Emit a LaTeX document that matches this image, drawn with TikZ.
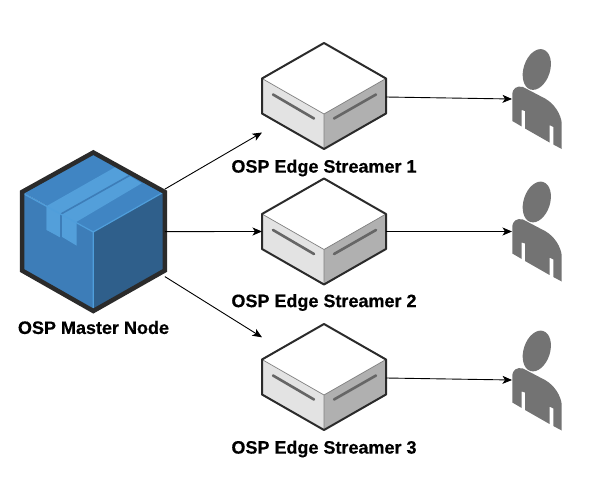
\documentclass[tikz,border=0pt]{standalone}
\usepackage{fontspec}
\setmainfont[BoldFeatures={FakeBold=0.4}]{Liberation Sans}
\usetikzlibrary{arrows.meta}
\definecolor{pkgtop}{HTML}{4085C3}
\definecolor{pkgleft}{HTML}{3D7DB8}
\definecolor{pkgright}{HTML}{2F5F8B}
\definecolor{pkgedge}{HTML}{4F9EDB}
\definecolor{pkgtape}{HTML}{539FDA}
\definecolor{outline}{HTML}{2B2B2B}
\definecolor{faceL}{HTML}{E3E3E3}
\definecolor{faceR}{HTML}{B0B0B0}
\definecolor{slot}{HTML}{666666}
\definecolor{persongray}{HTML}{737373}
\tikzset{
  lbl/.style={font=\fontsize{18}{20}\bfseries\selectfont,text=black,inner sep=0pt},
  anchorbox/.style={inner sep=0pt,outer sep=0pt,minimum width=#1},
  link/.style={draw=black,line width=0.9pt,-{Stealth[length=9.5pt,width=8pt,inset=2.5pt]}},
  boxedge/.style={draw=outline,line width=2pt,line join=round},
  slotline/.style={draw=slot,line width=2.6pt,line cap=round},
  persongeom/.style={fill=persongray,draw=none}
}
\newcommand{\edgeboxdraw}[1]{%
  \begin{scope}[shift={(0,#1)}]
    \fill[white] (324,43) -- (386,78.5) -- (324,114) -- (262,78.5) -- cycle;
    \fill[faceL] (262,78.5) -- (324,114) -- (324,149) -- (262,113.5) -- cycle;
    \fill[faceR] (386,78.5) -- (324,114) -- (324,149) -- (386,113.5) -- cycle;
    \draw[draw=gray,line width=0.7pt] (262,78.5) -- (324,114) -- (386,78.5) (324,114) -- (324,149);
    \draw[slotline] (273,94.5) -- (314,118.5);
    \draw[slotline] (334,118.5) -- (376,94.5);
    \draw[boxedge] (324,43) -- (386,78.5) -- (386,113.5) -- (324,149) -- (262,113.5) -- (262,78.5) -- cycle;
  \end{scope}}
\newcommand{\persondraw}[1]{%
  \begin{scope}[shift={(0,#1)}]
    \fill[persongeom] (536.8,69.5) ellipse [x radius=13.2,y radius=21,rotate=-18];
    \fill[persongeom] (512.3,121) -- (512.3,95)
      .. controls (512.3,88) and (517,85.5) .. (523,87)
      -- (545,98.5) .. controls (555,104) and (561,115) .. (561.7,123)
      -- (561.7,149) -- (553.3,144.5) -- (553.3,127) -- (549.5,125) -- (549.5,142.5)
      -- (525,128.5) -- (525,111) -- (521.7,110) -- (521.7,126.5) -- cycle;
  \end{scope}}
\begin{document}
\begin{tikzpicture}[x=1pt,y=-1pt]
\useasboundingbox (0,0) rectangle (611,503);
% master package
\fill[pkgtop] (93.3,151.7) -- (165,191.5) -- (93.3,232) -- (21.7,191.5) -- cycle;
\fill[pkgleft] (21.7,191.5) -- (93.3,232) -- (93.3,311.7) -- (21.7,270.5) -- cycle;
\fill[pkgright] (165,191.5) -- (93.3,232) -- (93.3,311.7) -- (165,270.5) -- cycle;
\fill[pkgtape] (46.7,206) -- (115,167.3) -- (141.7,183.3) -- (76.7,221.7) -- (76.7,245.7) -- (62.7,237.3) -- (60.3,236) -- (46.7,230) -- cycle;
\fill[pkgtape] (46.7,206) -- (60.3,214) -- (60.3,237.5) -- (46.7,230) -- cycle;
\draw[pkgleft,line width=1.6pt] (61,214) -- (129.5,175.5);
\draw[pkgleft,line width=2.2pt] (61.3,214) -- (61.3,238);
\draw[pkgedge,line width=1.2pt] (24,194) -- (93.3,232) -- (163,192.5) (93.3,232) -- (93.3,309);
\draw[outline,line width=4.5pt,line join=miter] (93.3,152.5) -- (164.8,192) -- (164.8,270.5) -- (93.3,311) -- (22,270.5) -- (22,192) -- cycle;
\node[anchorbox=143,minimum height=160] (master) at (93.4,231.6) {};
\node[lbl] (masterlabel) at (93.5,327.5) {OSP Master Node};
% edge streamers
\edgeboxdraw{0}
\edgeboxdraw{135.5}
\edgeboxdraw{281}
\node[anchorbox=124,minimum height=106] (edgeone) at (324,97) {};
\node[anchorbox=124,minimum height=106] (edgetwo) at (324,231.5) {};
\node[anchorbox=124,minimum height=106] (edgethree) at (324,378) {};
\node[lbl] (labelone) at (324,168) {OSP Edge Streamer 1};
\node[lbl] (labeltwo) at (324,302.5) {OSP Edge Streamer 2};
\node[lbl] (labelthree) at (324,449) {OSP Edge Streamer 3};
% users
\persondraw{0}
\persondraw{132.5}
\persondraw{281.5}
\node[anchorbox=50,minimum height=100] (userone) at (537,99) {};
\node[anchorbox=50,minimum height=100] (usertwo) at (537,231.5) {};
\node[anchorbox=50,minimum height=100] (userthree) at (537,380) {};
% connectors
\draw[link] ([yshift=42.5]master.east) -- ([yshift=-35.5]edgeone.west);
\draw[link] (master.east) -- (edgetwo.west);
\draw[link] ([yshift=-45]master.east) -- ([yshift=40.7]edgethree.west);
\draw[link] (edgeone.east) -- (userone.west);
\draw[link] (edgetwo.east) -- (usertwo.west);
\draw[link] (edgethree.east) -- (userthree.west);
\end{tikzpicture}
\end{document}
